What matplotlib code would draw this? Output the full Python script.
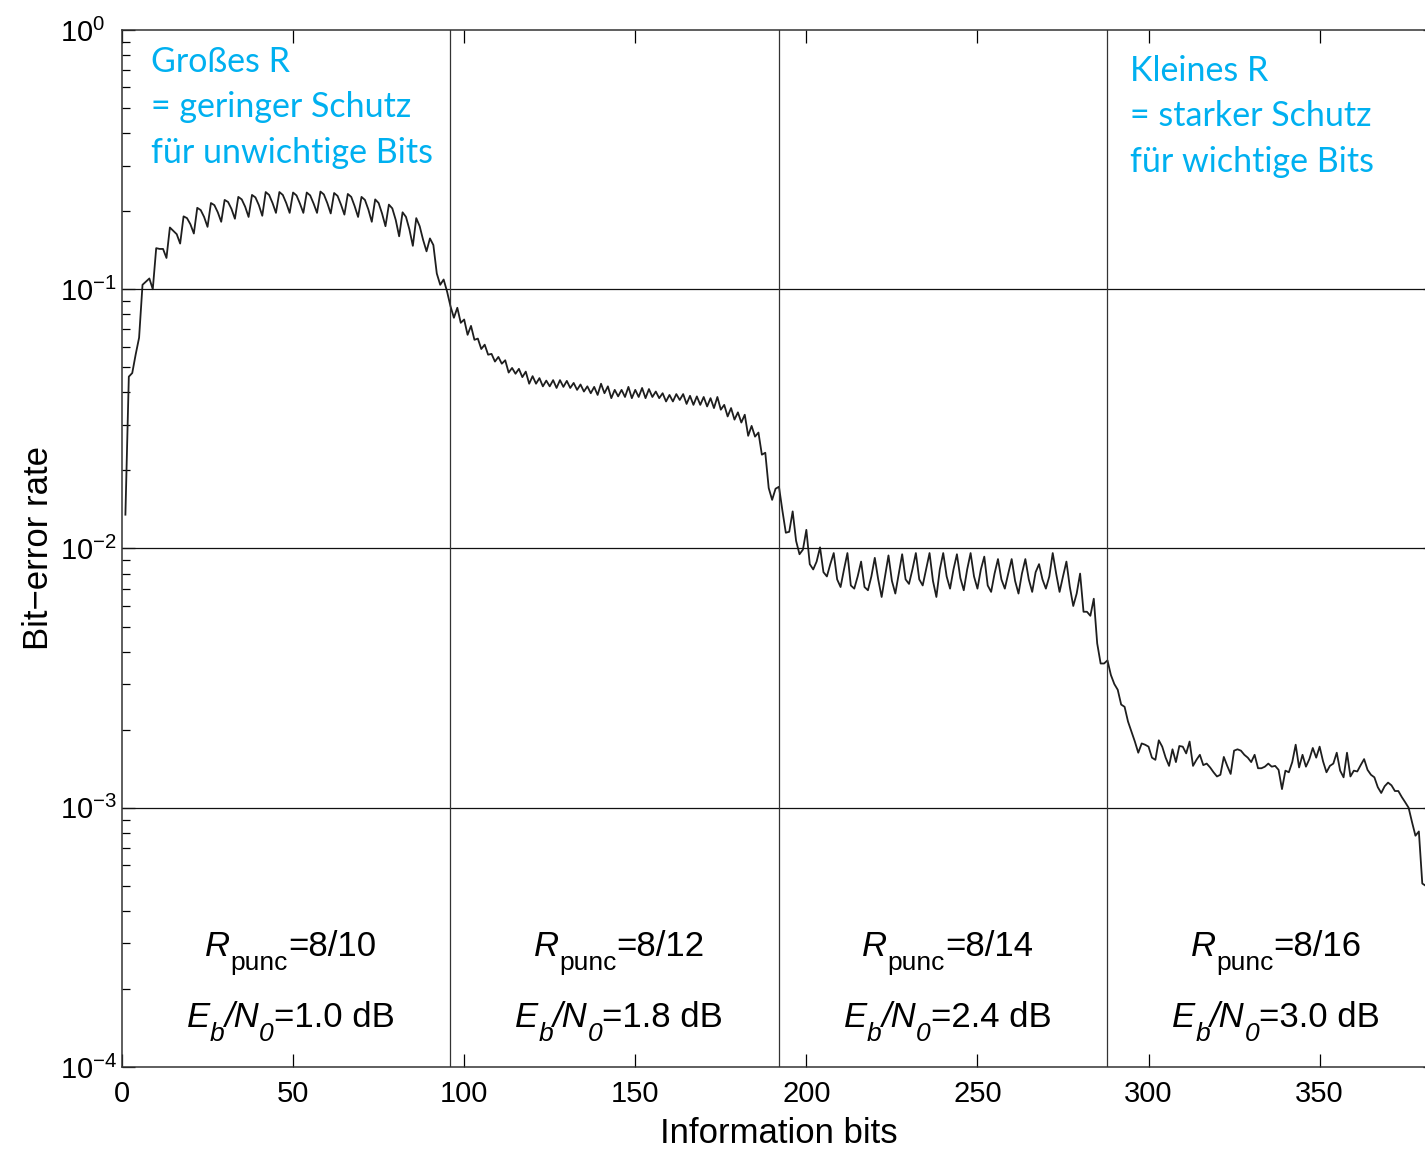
import numpy as np
import matplotlib
matplotlib.use("Agg")
import matplotlib.pyplot as plt
import matplotlib.transforms as mtransforms
from matplotlib.ticker import LogLocator, NullFormatter

plt.rcParams['font.family'] = ['Liberation Sans', 'DejaVu Sans']
plt.rcParams['mathtext.fontset'] = 'custom'
plt.rcParams['mathtext.rm'] = 'Liberation Sans'
plt.rcParams['mathtext.it'] = 'Liberation Sans:italic'
plt.rcParams['mathtext.bf'] = 'Liberation Sans:bold'

# bit-error rate per information bit, one list per puncturing section
ber_r10 = [0.0135, 0.046, 0.0475, 0.056, 0.065, 0.104, 0.107, 0.110,
           0.100, 0.144, 0.143, 0.143, 0.132, 0.173, 0.168, 0.163,
           0.150, 0.191, 0.188, 0.178, 0.164, 0.206, 0.202, 0.190,
           0.174, 0.215, 0.211, 0.198, 0.182, 0.221, 0.217, 0.204,
           0.187, 0.227, 0.222, 0.208, 0.190, 0.231, 0.226, 0.211,
           0.192, 0.237, 0.231, 0.215, 0.197, 0.237, 0.231, 0.215,
           0.197, 0.236, 0.230, 0.214, 0.197, 0.236, 0.230, 0.214,
           0.197, 0.238, 0.232, 0.215, 0.196, 0.235, 0.229, 0.212,
           0.194, 0.233, 0.227, 0.209, 0.190, 0.227, 0.221, 0.203,
           0.182, 0.222, 0.215, 0.196, 0.175, 0.212, 0.205, 0.185,
           0.160, 0.198, 0.190, 0.170, 0.147, 0.188, 0.175, 0.155,
           0.140, 0.157, 0.148, 0.115, 0.104, 0.109, 0.098, 0.086]

ber_r12 = [0.0776, 0.0848, 0.0742, 0.0764, 0.0667, 0.0722, 0.0638, 0.0645,
           0.0588, 0.0611, 0.0559, 0.0563, 0.0526, 0.0548, 0.0516, 0.0532,
           0.0477, 0.0497, 0.0472, 0.0493, 0.0458, 0.0481, 0.0432, 0.0462,
           0.0432, 0.0454, 0.0422, 0.0444, 0.0422, 0.0446, 0.0416, 0.0446,
           0.0420, 0.0443, 0.0416, 0.0435, 0.0409, 0.0429, 0.0403, 0.0422,
           0.0397, 0.0420, 0.0391, 0.0432, 0.0397, 0.0422, 0.0380, 0.0409,
           0.0386, 0.0409, 0.0384, 0.0420, 0.0380, 0.0409, 0.0384, 0.0416,
           0.0380, 0.0412, 0.0384, 0.0403, 0.0380, 0.0397, 0.0369, 0.0391,
           0.0369, 0.0394, 0.0374, 0.0394, 0.0361, 0.0388, 0.0358, 0.0386,
           0.0358, 0.0384, 0.0353, 0.0380, 0.0348, 0.0384, 0.0343, 0.0358,
           0.0323, 0.0348, 0.0314, 0.0335, 0.0306, 0.0328, 0.0272, 0.0297,
           0.0270, 0.0280, 0.0230, 0.0234, 0.0171, 0.0154, 0.0170, 0.0173]

ber_r14 = [0.0140, 0.0115, 0.0116, 0.0139, 0.0107, 0.0095, 0.0099, 0.0118,
           0.0087, 0.0083, 0.0089, 0.0101, 0.0081, 0.0078, 0.0087, 0.0096,
           0.0076, 0.0071, 0.0083, 0.0096, 0.0072, 0.0070, 0.0078, 0.0089,
           0.0071, 0.0069, 0.0078, 0.0092, 0.0076, 0.0065, 0.0078, 0.0094,
           0.0075, 0.0067, 0.0080, 0.0095, 0.0076, 0.0073, 0.0083, 0.0096,
           0.0076, 0.0072, 0.0083, 0.0096, 0.0075, 0.0065, 0.0083, 0.0096,
           0.0078, 0.0070, 0.0083, 0.0095, 0.0077, 0.0069, 0.0083, 0.0096,
           0.0078, 0.0070, 0.0083, 0.0093, 0.0072, 0.0068, 0.0080, 0.0091,
           0.0076, 0.0070, 0.0080, 0.0091, 0.0075, 0.0067, 0.0080, 0.0091,
           0.0076, 0.0068, 0.0081, 0.0087, 0.0076, 0.0070, 0.0078, 0.0096,
           0.0080, 0.0068, 0.0078, 0.0089, 0.0071, 0.0060, 0.0067, 0.0080,
           0.0057, 0.0057, 0.0055, 0.0064, 0.0043, 0.0036, 0.0036, 0.0037]

ber_r16 = [0.00325, 0.00300, 0.00285, 0.00250, 0.00245, 0.00215, 0.00197, 0.00180,
           0.00163, 0.00177, 0.00175, 0.00172, 0.00156, 0.00153, 0.00182, 0.00172,
           0.00156, 0.00145, 0.00168, 0.00150, 0.00173, 0.00172, 0.00162, 0.00180,
           0.00145, 0.00153, 0.00160, 0.00146, 0.00148, 0.00143, 0.00137, 0.00132,
           0.00134, 0.00157, 0.00145, 0.00135, 0.00166, 0.00168, 0.00166, 0.00160,
           0.00156, 0.00150, 0.00160, 0.00142, 0.00142, 0.00144, 0.00148, 0.00144,
           0.00145, 0.00140, 0.00118, 0.00139, 0.00137, 0.00150, 0.00175, 0.00143,
           0.00160, 0.00144, 0.00154, 0.00170, 0.00156, 0.00172, 0.00151, 0.00137,
           0.00145, 0.00148, 0.00163, 0.00139, 0.00131, 0.00163, 0.00132, 0.00139,
           0.00138, 0.00146, 0.00154, 0.00140, 0.00134, 0.00131, 0.00120, 0.00114,
           0.00121, 0.00125, 0.00122, 0.00116, 0.00116, 0.00110, 0.00105, 0.00100,
           0.00088, 0.00078, 0.00081, 0.00051, 0.00050]

section_len = 96
n_bits = 384
rates = ['8/10', '8/12', '8/14', '8/16']
ebn0 = ['1.0', '1.8', '2.4', '3.0']

ber = np.array(ber_r10 + ber_r12 + ber_r14 + ber_r16)
bits = np.arange(1, len(ber) + 1)

fig = plt.figure(figsize=(14.25, 11.52), dpi=100)
# axes run past the right border of the figure
ax = fig.add_axes([0.0856, 0.0738, 0.9221, 0.9002])

ax.semilogy(bits, ber, color='#1e1e1e', lw=1.3)
ax.set_xlim(0, n_bits)
ax.set_ylim(1e-4, 1)

# decade grid and section borders
for e in [1e-1, 1e-2, 1e-3]:
    ax.axhline(e, color='#111111', lw=0.9)
for k in range(1, 4):
    ax.axvline(k * section_len, color='#333333', lw=0.9)

ax.set_xticks(np.arange(0, 351, 50))
ax.yaxis.set_major_locator(LogLocator(base=10, numticks=10))
ax.yaxis.set_minor_locator(LogLocator(base=10, subs=np.arange(2, 10), numticks=20))
ax.yaxis.set_minor_formatter(NullFormatter())
ax.tick_params(which='major', direction='in', length=9.5, width=0.9,
               top=True, right=True, labelsize=21)
ax.tick_params(which='minor', direction='in', length=5.5, width=0.9,
               top=True, right=True)
ax.tick_params(axis='x', which='major', pad=9.5)
ax.tick_params(axis='y', which='major', pad=44.5)
for lbl in ax.get_yticklabels():
    lbl.set_horizontalalignment('left')
for s in ax.spines.values():
    s.set_color('#333333')
    s.set_linewidth(1.1)

ax.set_xlabel('Information bits', fontsize=25)
ax.set_ylabel('Bit\u2212error rate', fontsize=25)
ax.xaxis.set_label_coords(0.5, -0.048)
ax.yaxis.set_label_coords(-0.051, 0.5)

# rate / Eb/N0 for each section, subscripts set lower than mathtext would
renderer = fig.canvas.get_renderer()
xt = ax.get_xaxis_transform()


def label_row(xc, yc, parts):
    items = []
    for s, size, style, drop in parts:
        t = ax.text(xc, yc, s, fontsize=size, style=style, transform=xt,
                    ha='left', va='baseline')
        items.append((t, t.get_window_extent(renderer).width, drop))
    x0 = -sum(w for _, w, _ in items) / 2
    for t, w, drop in items:
        t.set_transform(mtransforms.offset_copy(xt, fig=fig, x=x0, y=-drop,
                                                units='dots'))
        x0 += w


for k in range(4):
    xc = k * section_len + section_len / 2 + 1.3
    label_row(xc, 0.107, [('R', 25, 'italic', 0),
                          ('punc', 19, 'normal', 14),
                          ('=' + rates[k], 25, 'normal', 0)])
    label_row(xc, 0.0386, [('E', 25, 'italic', 0),
                           ('b', 19, 'italic', 14),
                           ('/N', 25, 'italic', 0),
                           ('0', 19, 'italic', 14),
                           ('=' + ebn0[k] + ' dB', 25, 'normal', 0)])

blue = '#00b0f0'
ax.text(8.5, 0.985, 'Großes R\n= geringer Schutz\nfür unwichtige Bits',
        transform=xt, ha='left', va='top',
        color=blue, fontsize=24.5, family=['Lato', 'DejaVu Sans'], linespacing=1.52)
ax.text(294.5, 0.976, 'Kleines R\n= starker Schutz\nfür wichtige Bits',
        transform=xt, ha='left', va='top',
        color=blue, fontsize=24.5, family=['Lato', 'DejaVu Sans'], linespacing=1.52)

fig.savefig('out.png', dpi=100)
